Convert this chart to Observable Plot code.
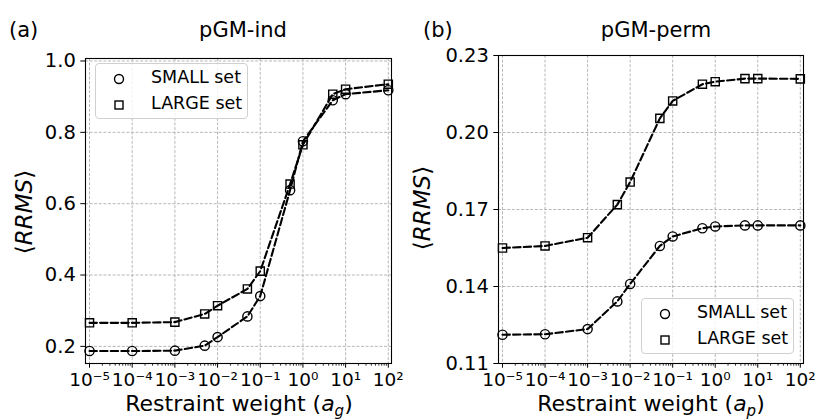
<!DOCTYPE html>
<html>
<head>
<meta charset="utf-8">
<script src="https://cdn.jsdelivr.net/npm/d3@7"></script>
<script src="https://cdn.jsdelivr.net/npm/@observablehq/plot@0.6"></script>
<style>
  html, body { margin: 0; padding: 0; background: #fff; }
  #root { position: relative; width: 816px; height: 420px; overflow: hidden; background: #fff; }
  .panel { position: absolute; top: 0; }
  .txt { position: absolute; white-space: nowrap; color: #000; line-height: 1; font-family: "DejaVu Sans", sans-serif; }
  .title { font-size: 21px; }
  .xlab { font-size: 22px; transform: translateX(-50%); }
  .ylab { font-size: 23px; transform: translate(-50%, -50%) rotate(-90deg); }
  .legend { position: absolute; border: 1px solid #d0d0d0; border-radius: 4px; background: rgba(255,255,255,0.8);
            font-family: "DejaVu Sans", sans-serif; font-size: 17.5px; box-sizing: border-box; }
  .legend svg { position: absolute; }
  .legend span { position: absolute; line-height: 1; }
</style>
</head>
<body>
<div id="root"></div>
<script>
// ---------------- data ----------------
const weights = [1e-5, 1e-4, 1e-3, 5e-3, 1e-2, 5e-2, 1e-1, 5e-1, 1, 5, 10, 100];

// panel (a) pGM-ind
const smallInd = [0.187, 0.187, 0.188, 0.202, 0.226, 0.284, 0.341, 0.638, 0.775, 0.890, 0.907, 0.918];
const largeInd = [0.266, 0.266, 0.268, 0.291, 0.314, 0.361, 0.411, 0.655, 0.765, 0.907, 0.921, 0.935];

// panel (b) pGM-perm
const smallPerm = [0.1212, 0.1214, 0.1234, 0.1342, 0.1410, 0.1558, 0.1595, 0.1627, 0.1634, 0.1638, 0.1638, 0.1638];
const largePerm = [0.1550, 0.1558, 0.1590, 0.1719, 0.1807, 0.2055, 0.2123, 0.2188, 0.2198, 0.2210, 0.2210, 0.2209];

const xTicks = [1e-5, 1e-4, 1e-3, 1e-2, 1e-1, 1, 10, 100];
const yTicksInd = [0.2, 0.4, 0.6, 0.8, 1.0];
const yTicksPerm = [0.11, 0.14, 0.17, 0.20, 0.23];
const seriesNames = ["SMALL set", "LARGE set"];
const panelTitles = ["pGM-ind", "pGM-perm"];
const panelTags = ["(a)", "(b)"];

// ---------------- helpers ----------------
const minorTicks = [];
for (let e = -5; e < 2; e++) for (let m = 2; m <= 9; m++) minorTicks.push(m * 10 ** e);

const sup = {"-": "\u207B", "0": "\u2070", "1": "\u00B9", "2": "\u00B2", "3": "\u00B3", "4": "\u2074", "5": "\u2075", "6": "\u2076", "7": "\u2077", "8": "\u2078", "9": "\u2079"};
const powFmt = d => "10" + String(Math.round(Math.log10(d))).split("").map(c => sup[c]).join("");

function rows(small, large) {
  return weights.flatMap((w, i) => [
    {w, v: small[i], set: seriesNames[0]},
    {w, v: large[i], set: seriesNames[1]}
  ]);
}

const gridStyle = {stroke: "#b0b0b0", strokeOpacity: 1, strokeWidth: 0.9, strokeDasharray: "3,1.6"};

function panel(data, yDomain, yTicks, yFmt, margins) {
  return Plot.plot({
    width: 408,
    height: 420,
    ...margins,
    x: {type: "log", domain: [10 ** -5.094, 10 ** 2.075]},
    y: {domain: yDomain},
    style: {fontFamily: "DejaVu Sans, sans-serif", fontSize: "18px", color: "black", background: "transparent", overflow: "visible"},
    marks: [
      Plot.gridX(xTicks, gridStyle),
      Plot.gridY(yTicks, gridStyle),
      Plot.axisX(minorTicks, {tickSize: 2.7, tickFormat: () => "", label: null, strokeWidth: 0.8}),
      Plot.axisX(xTicks, {tickSize: 4.7, tickPadding: 5, tickFormat: powFmt, label: null, strokeWidth: 1, fontSize: 18.5}),
      Plot.axisY(yTicks, {tickSize: 4.7, tickPadding: 5, tickFormat: yFmt, label: null, strokeWidth: 1, fontSize: 19.5}),
      Plot.line(data, {x: "w", y: "v", z: "set", stroke: "black", strokeWidth: 2.1, strokeDasharray: "7.4,3.2"}),
      Plot.dot(data.filter(d => d.set === seriesNames[0]), {x: "w", y: "v", symbol: "circle", r: 4.6, stroke: "black", strokeWidth: 1.4, fill: "none"}),
      Plot.dot(data.filter(d => d.set === seriesNames[1]), {x: "w", y: "v", symbol: "square", r: 4.6, stroke: "black", strokeWidth: 1.4, fill: "none"}),
      Plot.frame({stroke: "black", strokeWidth: 1.1})
    ]
  });
}

const root = document.getElementById("root");

const pa = panel(rows(smallInd, largeInd), [0.152, 1.007], yTicksInd, d3.format(".1f"),
  {marginLeft: 85, marginRight: 17, marginTop: 58, marginBottom: 57});
pa.classList.add("panel"); pa.style.left = "0px";
root.appendChild(pa);

const pb = panel(rows(smallPerm, largePerm), [0.11, 0.23], yTicksPerm, d3.format(".2f"),
  {marginLeft: 90, marginRight: 13, marginTop: 55, marginBottom: 57});
pb.classList.add("panel"); pb.style.left = "408px";
root.appendChild(pb);

// ---------------- text ----------------
function addText(cls, html, left, top) {
  const d = document.createElement("div");
  d.className = "txt " + cls;
  d.innerHTML = html;
  d.style.left = left + "px";
  d.style.top = top + "px";
  root.appendChild(d);
  return d;
}
addText("title", panelTags[0], 9, 20);
addText("title", panelTags[1], 423, 20);
const t1 = addText("title", panelTitles[0], 243, 20); t1.style.transform = "translateX(-50%)";
const t2 = addText("title", panelTitles[1], 656, 20); t2.style.transform = "translateX(-50%)";
addText("xlab", "Restraint weight (<i>a</i><sub style='font-size:15px'><i>g</i></sub>)", 239, 393);
addText("xlab", "Restraint weight (<i>a</i><sub style='font-size:15px'><i>p</i></sub>)", 651, 393);
addText("ylab", "\u27E8<i>RRMS</i>\u27E9", 24, 212);
addText("ylab", "\u27E8<i>RRMS</i>\u27E9", 422, 208);

// ---------------- legends ----------------
function legend(left, top, w, h) {
  const box = document.createElement("div");
  box.className = "legend";
  box.style.left = left + "px"; box.style.top = top + "px";
  box.style.width = w + "px"; box.style.height = h + "px";
  const symbols = ["circle", "square"];
  seriesNames.forEach((name, i) => {
    const cy = 15 + i * 26;
    const s = document.createElementNS("http://www.w3.org/2000/svg", "svg");
    s.setAttribute("width", 14); s.setAttribute("height", 14);
    s.style.left = (23 - 7) + "px"; s.style.top = (cy - 7) + "px";
    s.innerHTML = symbols[i] === "circle"
      ? "<circle cx='7' cy='7' r='4.5' fill='none' stroke='black' stroke-width='1.4'/>"
      : "<rect x='3' y='3' width='8' height='8' fill='none' stroke='black' stroke-width='1.4'/>";
    box.appendChild(s);
    const sp = document.createElement("span");
    sp.textContent = name;
    sp.style.left = "55px"; sp.style.top = (cy - 10) + "px";
    box.appendChild(sp);
  });
  root.appendChild(box);
}
legend(95, 63, 153, 56);
legend(641, 298, 153, 56);
</script>
</body>
</html>
